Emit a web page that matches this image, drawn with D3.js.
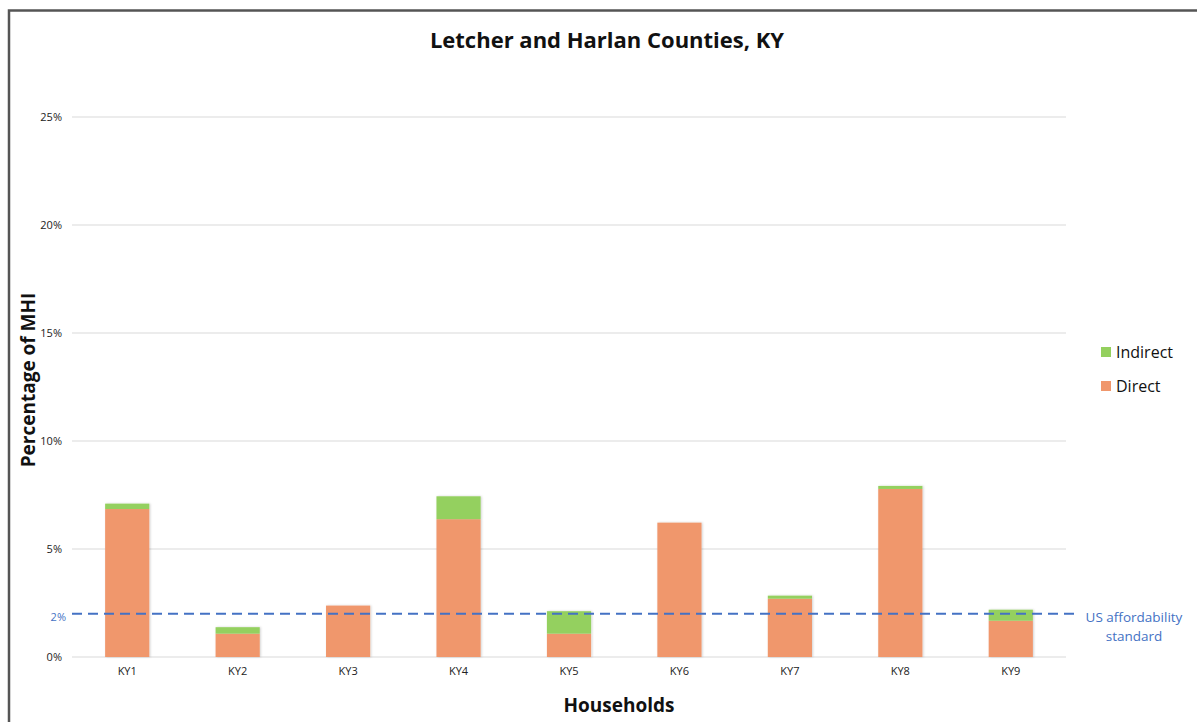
<!DOCTYPE html>
<html>
<head>
<meta charset="utf-8">
<script src="https://cdn.jsdelivr.net/npm/d3@7"></script>
<style>
  html, body { margin: 0; padding: 0; background: #fff; }
  svg { display: block; }
  text { font-family: "Open Sans", "Liberation Sans", sans-serif; }
</style>
</head>
<body>
<svg id="chart" width="1197" height="722"></svg>
<script>
// Household burden as a share of median household income (%)
const households = ["KY1", "KY2", "KY3", "KY4", "KY5", "KY6", "KY7", "KY8", "KY9"];
const directCost   = [6.85, 1.08, 2.38, 6.38, 1.08, 6.22, 2.70, 7.78, 1.68];
const indirectCost = [0.25, 0.30, 0.00, 1.06, 1.04, 0.00, 0.14, 0.14, 0.51];
const yTicks = [0, 5, 10, 15, 20, 25];
const affordabilityStandard = 2;
const seriesNames = ["Direct", "Indirect"];

const colors = { Direct: "#F0976C", Indirect: "#94D05E" };

const svg = d3.select("#chart");
const W = 1197, H = 722;
const margin = { left: 72, right: 131, top: 117, bottom: 65 };

// Outer frame
svg.append("path")
  .attr("d", `M9,${H} V10.5 H${W}`)
  .attr("fill", "none")
  .attr("stroke", "#555")
  .attr("stroke-width", 2.5);

const x = d3.scaleBand()
  .domain(households)
  .range([margin.left, W - margin.right])
  .paddingInner(0.6)
  .paddingOuter(0.3);

const y = d3.scaleLinear()
  .domain([0, 25])
  .range([H - margin.bottom, margin.top]);

// Grid lines
svg.append("g")
  .selectAll("line")
  .data(yTicks)
  .join("line")
  .attr("x1", margin.left)
  .attr("x2", W - margin.right)
  .attr("y1", d => y(d))
  .attr("y2", d => y(d))
  .attr("stroke", "#d9d9d9")
  .attr("stroke-width", 1);

// Y axis tick labels
const yAxis = d3.axisLeft(y).tickValues(yTicks).tickFormat(d => d + "%").tickSize(0).tickPadding(10);
svg.append("g")
  .attr("transform", `translate(${margin.left},0)`)
  .call(yAxis)
  .call(g => g.select(".domain").remove())
  .call(g => g.selectAll("text")
    .attr("font-family", "'Open Sans', sans-serif")
    .attr("font-size", 11)
    .attr("fill", "#222"));

// X axis tick labels
const xAxis = d3.axisBottom(x).tickSize(0).tickPadding(10);
svg.append("g")
  .attr("transform", `translate(0,${y(0)})`)
  .call(xAxis)
  .call(g => g.select(".domain").remove())
  .call(g => g.selectAll("text")
    .attr("font-family", "'Open Sans', sans-serif")
    .attr("font-size", 11)
    .attr("fill", "#222"));

// Stacked bars
const rows = households.map((h, i) => ({ household: h, Direct: directCost[i], Indirect: indirectCost[i] }));
const stacked = d3.stack().keys(seriesNames)(rows);

const defs = svg.append("defs");
const shadow = defs.append("filter").attr("id", "barShadow")
  .attr("x", "-10%").attr("y", "-10%").attr("width", "130%").attr("height", "120%");
shadow.append("feDropShadow")
  .attr("dx", 1).attr("dy", 0).attr("stdDeviation", 1)
  .attr("flood-color", "#000").attr("flood-opacity", 0.18);

const barLayer = svg.append("g").attr("filter", "url(#barShadow)");
barLayer.selectAll("g")
  .data(stacked)
  .join("g")
  .attr("fill", d => colors[d.key])
  .selectAll("rect")
  .data(d => d.filter(s => s[1] - s[0] > 0))
  .join("rect")
  .attr("x", d => x(d.data.household))
  .attr("width", x.bandwidth())
  .attr("y", d => y(d[1]))
  .attr("height", d => y(d[0]) - y(d[1]));

// US affordability standard reference line
svg.append("line")
  .attr("x1", margin.left)
  .attr("x2", 1077)
  .attr("y1", y(affordabilityStandard))
  .attr("y2", y(affordabilityStandard))
  .attr("stroke", "#4472C4")
  .attr("stroke-width", 2)
  .attr("stroke-dasharray", "10,6");

svg.append("text")
  .attr("x", 66)
  .attr("y", y(affordabilityStandard) + 7)
  .attr("text-anchor", "end")
  .attr("font-size", 11)
  .attr("fill", "#4472C4")
  .text(affordabilityStandard + "%");

const stdLabel = svg.append("text")
  .attr("x", 1134)
  .attr("font-size", 13.5)
  .attr("fill", "#4472C4")
  .attr("text-anchor", "middle");
stdLabel.append("tspan").attr("x", 1134).attr("y", y(affordabilityStandard) + 8).text("US affordability");
stdLabel.append("tspan").attr("x", 1134).attr("y", y(affordabilityStandard) + 27).text("standard");

// Title
svg.append("text")
  .attr("x", 607)
  .attr("y", 48)
  .attr("text-anchor", "middle")
  .attr("font-size", 22)
  .attr("font-weight", "bold")
  .attr("fill", "#111")
  .text("Letcher and Harlan Counties, KY");

// Axis titles
svg.append("text")
  .attr("transform", `translate(35,${380}) rotate(-90)`)
  .attr("text-anchor", "middle")
  .attr("font-size", 19)
  .attr("font-weight", "bold")
  .attr("fill", "#111")
  .text("Percentage of MHI");

svg.append("text")
  .attr("x", 619)
  .attr("y", 712)
  .attr("text-anchor", "middle")
  .attr("font-size", 19)
  .attr("font-weight", "bold")
  .attr("fill", "#111")
  .text("Households");

// Legend
const legendItems = ["Indirect", "Direct"];
const legend = svg.append("g").attr("transform", "translate(1101,347)");
legend.selectAll("g")
  .data(legendItems)
  .join("g")
  .attr("transform", (d, i) => `translate(0,${i * 34})`)
  .call(g => g.append("rect")
    .attr("width", 10).attr("height", 10)
    .attr("fill", d => colors[d]))
  .call(g => g.append("text")
    .attr("x", 15).attr("y", 11)
    .attr("font-size", 16)
    .attr("fill", "#111")
    .text(d => d));
</script>
</body>
</html>
